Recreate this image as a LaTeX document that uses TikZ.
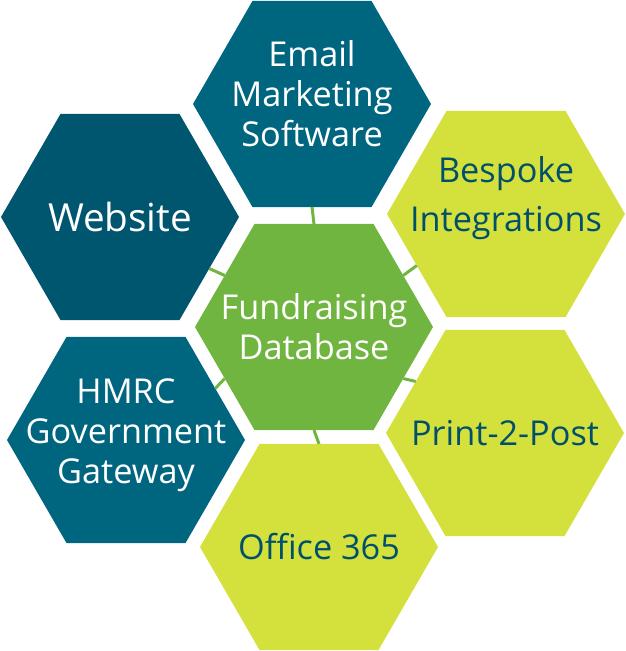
\documentclass[tikz,border=0pt]{standalone}
\usepackage{fontspec}
\setmainfont{Open Sans}
\usetikzlibrary{shapes.geometric}

\definecolor{tealblue}{HTML}{006680}
\definecolor{deepteal}{HTML}{00566F}
\definecolor{dbgreen}{HTML}{71B541}
\definecolor{limegreen}{HTML}{D4E03B}
\definecolor{darktext}{HTML}{00506B}

\begin{document}
\begin{tikzpicture}[
    % ── Hexagon tiles ──
    hexbox/.style={
        regular polygon, regular polygon sides=6,
        minimum size=4.76cm, inner sep=0pt, outer sep=0pt,
        draw=none
    },
    hextext/.style={
        align=center, inner sep=0pt,
        font=\fontsize{19.5}{22.8}\selectfont
    },
    bluehex/.style={hexbox, fill=tealblue},
    limehex/.style={hexbox, fill=limegreen},
    % ── Short links between tiles ──
    link/.style={draw=dbgreen, line width=1.7pt},
]

\useasboundingbox (0,0) rectangle (12.5,-13.02);

% ════════════════════════════════════════════════════════
%  CENTRE
% ════════════════════════════════════════════════════════

\node (db) [hexbox, fill=dbgreen,
    label={[hextext, text=white]center:Fundraising\\Database}]
    at (6.28,-6.54) {};

% ════════════════════════════════════════════════════════
%  RING OF SYSTEMS
% ════════════════════════════════════════════════════════

\node (email) [bluehex,
    label={[hextext, text=white, yshift=0.2cm]center:Email\\Marketing\\Software}]
    at (6.24,-2.08) {};

\node (web) [hexbox, fill=deepteal,
    label={[hextext, text=white, font=\fontsize{22}{26}\selectfont]center:Website}]
    at (2.40,-4.34) {};

\node (bespoke) [limehex,
    label={[hextext, text=darktext, yshift=0.32cm,
            font=\fontsize{19.5}{27.5}\selectfont]center:Bespoke\\Integrations}]
    at (10.12,-4.28) {};

\node (hmrc) [bluehex,
    label={[hextext, text=white, yshift=0.1cm]center:HMRC\\Government\\Gateway}]
    at (2.52,-8.80) {};

\node (print) [limehex,
    label={[hextext, text=darktext]center:Print-2-Post}]
    at (10.10,-8.66) {};

\node (office) [limehex,
    label={[hextext, text=darktext]center:Office 365}]
    at (6.38,-10.94) {};

% ════════════════════════════════════════════════════════
%  LINKS
% ════════════════════════════════════════════════════════

\draw [link] (db.90)  -- (email.270);
\draw [link] (db.150) -- (web.330);
\draw [link] (db.30)  -- (bespoke.210);
\draw [link] (db.210) -- (hmrc.30);
\draw [link] (db.330) -- (print.150);
\draw [link] (db.270) -- (office.90);

\end{tikzpicture}
\end{document}
